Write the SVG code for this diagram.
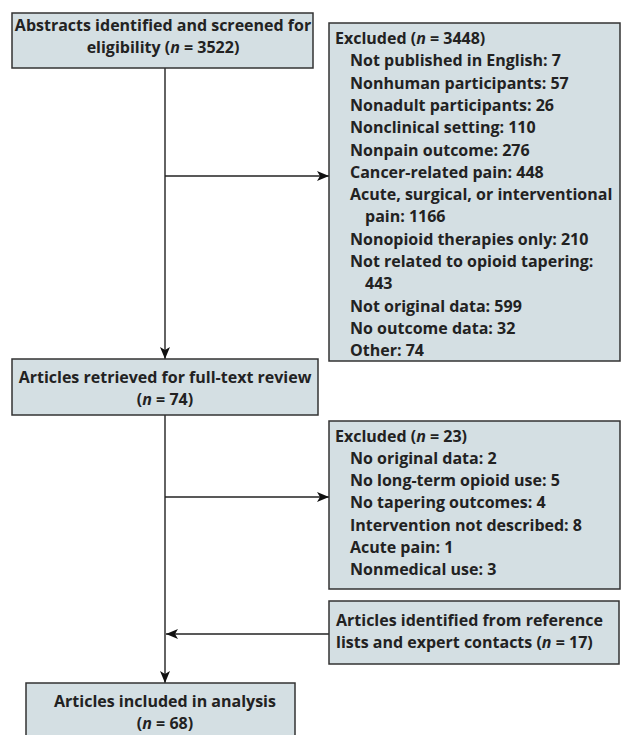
<svg xmlns="http://www.w3.org/2000/svg" width="621" height="735" viewBox="0 0 621 735">
<style>
.box{fill:#d4dfe3;stroke:#333;stroke-width:1.5}
text{font-family:"Open Sans","Liberation Sans",sans-serif;font-weight:bold;font-size:16px;fill:#222}
.c{text-anchor:middle}
.ln{stroke:#222;stroke-width:1.4;fill:none}
</style>
<defs>
<marker id="ah" viewBox="0 0 12 10" refX="12" refY="5" markerWidth="12" markerHeight="10" markerUnits="userSpaceOnUse" orient="auto">
<path d="M0,0 L12,5 L0,10 L3,5 Z" fill="#111"/>
</marker>
</defs>
<rect width="621" height="735" fill="#fff"/>
<g id="connectors">
<line class="ln" x1="165" y1="68" x2="165" y2="359" marker-end="url(#ah)"/>
<line class="ln" x1="165" y1="176" x2="329" y2="176" marker-end="url(#ah)"/>
<line class="ln" x1="165" y1="415" x2="165" y2="683" marker-end="url(#ah)"/>
<line class="ln" x1="165" y1="497" x2="329" y2="497" marker-end="url(#ah)"/>
<line class="ln" x1="329" y1="634" x2="166" y2="634" marker-end="url(#ah)"/>
</g>
<g id="n1">
<rect class="box" x="12" y="13" width="301" height="55"/>
<text class="c" x="163" y="31">Abstracts identified and screened for</text>
<text class="c" x="163" y="53">eligibility (<tspan font-style="italic">n</tspan> = 3522)</text>
</g>
<g id="n2">
<rect class="box" x="329" y="23" width="291" height="338"/>
<text x="335" y="44">Excluded (<tspan font-style="italic">n</tspan> = 3448)</text>
<text x="350" y="66.3">Not published in English: 7</text>
<text x="350" y="88.6">Nonhuman participants: 57</text>
<text x="350" y="110.9">Nonadult participants: 26</text>
<text x="350" y="133.2">Nonclinical setting: 110</text>
<text x="350" y="155.5">Nonpain outcome: 276</text>
<text x="350" y="177.8">Cancer-related pain: 448</text>
<text x="350" y="200.1">Acute, surgical, or interventional</text>
<text x="365" y="222.4">pain: 1166</text>
<text x="350" y="244.7">Nonopioid therapies only: 210</text>
<text x="350" y="267">Not related to opioid tapering:</text>
<text x="365" y="289.3">443</text>
<text x="350" y="311.6">Not original data: 599</text>
<text x="350" y="333.9">No outcome data: 32</text>
<text x="350" y="356.2">Other: 74</text>
</g>
<g id="n3">
<rect class="box" x="12" y="359" width="306" height="56"/>
<text class="c" x="165" y="383">Articles retrieved for full-text review</text>
<text class="c" x="165" y="405">(<tspan font-style="italic">n</tspan> = 74)</text>
</g>
<g id="n4">
<rect class="box" x="329" y="421" width="291" height="168"/>
<text x="335" y="441.5">Excluded (<tspan font-style="italic">n</tspan> = 23)</text>
<text x="350" y="463.8">No original data: 2</text>
<text x="350" y="486.1">No long-term opioid use: 5</text>
<text x="350" y="508.4">No tapering outcomes: 4</text>
<text x="350" y="530.7">Intervention not described: 8</text>
<text x="350" y="553">Acute pain: 1</text>
<text x="350" y="575.3">Nonmedical use: 3</text>
</g>
<g id="n5">
<rect class="box" x="329" y="601" width="290" height="63"/>
<text x="336" y="626">Articles identified from reference</text>
<text x="336" y="648">lists and expert contacts (<tspan font-style="italic">n</tspan> = 17)</text>
</g>
<g id="n6">
<rect class="box" x="26" y="683" width="269" height="60"/>
<text class="c" x="165" y="707">Articles included in analysis</text>
<text class="c" x="165" y="729">(<tspan font-style="italic">n</tspan> = 68)</text>
</g>
</svg>
